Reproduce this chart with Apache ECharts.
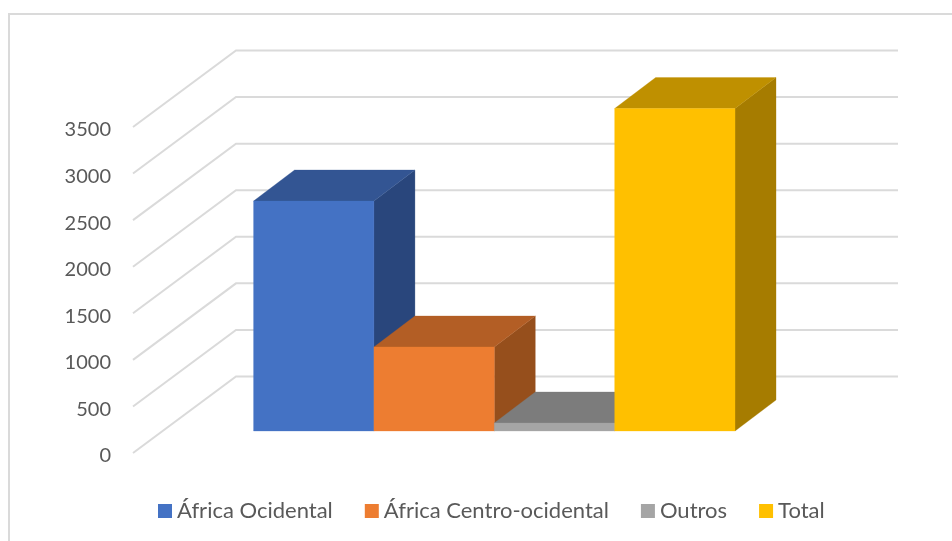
<!DOCTYPE html>
<html>
<head>
<meta charset="utf-8">
<style>html,body{margin:0;padding:0;background:#fff}#c{width:952px;height:541px}</style>
<script src="https://cdn.jsdelivr.net/npm/echarts@6/dist/echarts.min.js"></script>
</head>
<body>
<div id="c"></div>
<script>
var categories = ['Total'];
var seriesNames = ['África Ocidental', 'África Centro-ocidental', 'Outros', 'Total'];
var africaOcidental = [2469];
var africaCentroOcidental = [902];
var outros = [86];
var total = [3462];
var yTicks = [0, 500, 1000, 1500, 2000, 2500, 3000, 3500];
var frontColors = ['#4472C4', '#ED7D31', '#A5A5A5', '#FFC000'];
var topColors = ['#335593', '#B35E25', '#7C7C7C', '#BF9000'];
var sideColors = ['#29467C', '#964F1C', '#676767', '#A67C00'];
var seriesValues = [africaOcidental, africaCentroOcidental, outros, total];

var chart = echarts.init(document.getElementById('c'), null, {renderer: 'canvas'});
var PLANE_SHIFT = -3;
var WALL_DX = 103, WALL_DY = -76.5;
var BAR_DX = 30.3, BAR_DY = -22 + PLANE_SHIFT, DEPTH_DX = 41, DEPTH_DY = -31;
var GRID_COLOR = '#DADADA';

function renderWall(params, api) {
  var p = api.coord([0, api.value(0)]);
  var cs = params.coordSys;
  var x0 = cs.x, x1 = cs.x + cs.width;
  var y = p[1] + PLANE_SHIFT;
  return {
    type: 'polyline',
    silent: true,
    shape: {points: [[x0, y], [x0 + WALL_DX, y + WALL_DY], [x1 + WALL_DX, y + WALL_DY]]},
    style: {fill: null, stroke: GRID_COLOR, lineWidth: 2}
  };
}

function barRenderer(idx) {
  return function (params, api) {
    var centre = api.coord([api.value(0), 0]);
    var topPt = api.coord([api.value(0), api.value(1)]);
    var w = api.size([1, 0])[0] / 5.5;
    var xl = centre[0] + BAR_DX + (idx - 2) * w;
    var xr = xl + w;
    var yb = centre[1] + BAR_DY;
    var yt = topPt[1] + BAR_DY;
    var poly = function (pts, color) {
      return {type: 'polygon', shape: {points: pts}, style: {fill: color, stroke: color, lineWidth: 0.3}};
    };
    return {
      type: 'group',
      children: [
        poly([[xr, yb], [xr + DEPTH_DX, yb + DEPTH_DY], [xr + DEPTH_DX, yt + DEPTH_DY], [xr, yt]], sideColors[idx]),
        poly([[xl, yt], [xl + DEPTH_DX, yt + DEPTH_DY], [xr + DEPTH_DX, yt + DEPTH_DY], [xr, yt]], topColors[idx]),
        poly([[xl, yb], [xl, yt], [xr, yt], [xr, yb]], frontColors[idx])
      ]
    };
  };
}

var series = [{
  type: 'custom',
  name: 'grid',
  renderItem: renderWall,
  data: yTicks.map(function (t) { return [t]; }),
  encode: {y: 0},
  silent: true,
  z: 1
}];
seriesNames.forEach(function (name, i) {
  series.push({
    type: 'custom',
    name: name,
    renderItem: barRenderer(i),
    itemStyle: {color: frontColors[i]},
    data: categories.map(function (c, k) { return [k, seriesValues[i][k]]; }),
    encode: {x: 0, y: 1},
    z: 2 + i
  });
});

chart.setOption({
  animation: false,
  backgroundColor: '#fff',
  textStyle: {fontFamily: 'Lato'},
  graphic: [{
    type: 'rect',
    silent: true,
    shape: {x: 9, y: 14, width: 1000, height: 1000},
    style: {fill: null, stroke: GRID_COLOR, lineWidth: 2}
  }],
  grid: {left: 133, right: 157, top: 130, bottom: 85},
  xAxis: {
    type: 'category',
    data: categories,
    axisLine: {show: false},
    axisTick: {show: false},
    axisLabel: {show: false},
    splitLine: {show: false}
  },
  yAxis: {
    type: 'value',
    min: 0,
    max: 3500,
    interval: 500,
    axisLine: {show: false},
    axisTick: {show: false},
    splitLine: {show: false},
    axisLabel: {
      color: '#595959', fontSize: 20, fontFamily: 'Lato', margin: 22,
      formatter: function (v) { return String(v); }
    }
  },
  legend: {
    data: seriesNames,
    left: 158,
    top: 500,
    padding: 0,
    icon: 'rect',
    itemWidth: 14,
    itemHeight: 14,
    itemGap: 32,
    selectedMode: false,
    textStyle: {color: '#595959', fontSize: 22, fontFamily: 'Lato'}
  },
  tooltip: {show: false},
  series: series
});
</script>
</body>
</html>
